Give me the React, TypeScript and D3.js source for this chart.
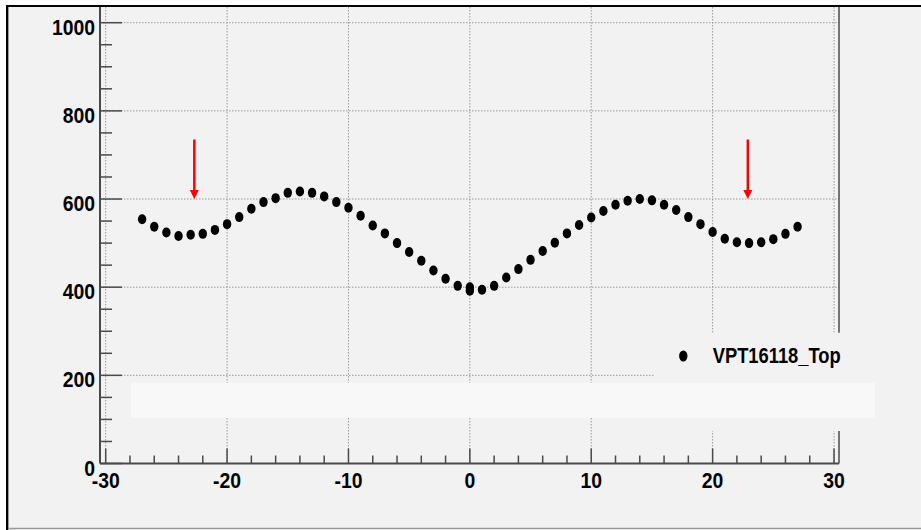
import * as d3 from 'd3';

// Measured points (x position, signal)
const xValues = [
  -27, -26, -25, -24, -23, -22, -21, -20, -19, -18, -17, -16, -15, -14,
  -13, -12, -11, -10, -9, -8, -7, -6, -5, -4, -3, -2, -1, 0, 0,
  1, 2, 3, 4, 5, 6, 7, 8, 9, 10, 11, 12, 13, 14,
  15, 16, 17, 18, 19, 20, 21, 22, 23, 24, 25, 26, 27,
];
const yValues = [
  554, 537, 524, 516, 519, 521, 530, 543, 559, 578, 593, 602, 614, 617,
  614, 606, 593, 580, 562, 540, 522, 500, 480, 460, 438, 419, 403, 400, 392,
  394, 403, 422, 441, 462, 482, 501, 522, 541, 558, 573, 587, 596, 600,
  597, 587, 575, 559, 543, 525, 510, 502, 500, 502, 509, 521, 537,
];
const seriesName = 'VPT16118_Top';

// Axis ticks
const xMajorTicks = [-30, -20, -10, 0, 10, 20, 30];
const yMajorTicks = [0, 200, 400, 600, 800, 1000];

// Red arrow markers (x, from y, to y)
const arrowX = [-22.7, 22.9];
const arrowFrom = 735;
const arrowTo = 600;

const W = 921, H = 530;
const frameL = 100, frameR = 839, frameT = 7, frameB = 463.5;

export default function App() {
  const x = d3.scaleLinear().domain([-30, 30]).range([105.7, 834]);
  const y = d3.scaleLinear().domain([0, 1000]).range([463.5, 22.7]);

  const xMinor = d3.range(-30, 30.01, 2).filter(v => v % 10 !== 0);
  const yMinor = d3.range(0, 1000.01, 50).filter(v => v % 200 !== 0);

  const points = xValues.map((xv, i) => ({ x: xv, y: yValues[i] }));

  const axisColor = '#4a4a4a';
  const gridColor = '#9a9a9a';
  const font = "'Liberation Sans', Arial, Helvetica, sans-serif";

  return (
    <svg width={W} height={H} style={{ position: 'absolute', left: 0, top: 0 }}>
      {/* canvas background + outer border */}
      <rect x={7} y={6} width={W - 7} height={H - 6} fill="#f2f2f2" />
      <line x1={6} x2={W} y1={6} y2={6} stroke="#000" strokeWidth={2} />
      <line x1={7} x2={7} y1={5} y2={H} stroke="#000" strokeWidth={2} />
      <line x1={8.5} x2={8.5} y1={7} y2={H} stroke="#999" strokeWidth={1} />
      <line x1={8} x2={W} y1={528.5} y2={528.5} stroke="#9a9a9a" strokeWidth={1.5} />

      {/* grid */}
      <g stroke={gridColor} strokeWidth={1} strokeDasharray="1.5,1.5">
        {xMajorTicks.map(t => (
          <line key={'gx' + t} x1={x(t)} x2={x(t)} y1={frameT} y2={frameB} />
        ))}
        {yMajorTicks.map(t => (
          <line key={'gy' + t} x1={frameL} x2={frameR} y1={y(t)} y2={y(t)} />
        ))}
      </g>

      {/* frame / axes */}
      <line x1={frameL} x2={frameL} y1={frameT} y2={frameB} stroke={axisColor} strokeWidth={2} />
      <line x1={frameR} x2={frameR} y1={frameT} y2={frameB} stroke={axisColor} strokeWidth={1.5} />
      <line x1={frameL} x2={frameR} y1={frameB} y2={frameB} stroke={axisColor} strokeWidth={2} />

      {/* y ticks */}
      <g stroke={axisColor} strokeWidth={1.5}>
        {yMajorTicks.map(t => (
          <line key={'ytM' + t} x1={frameL} x2={frameL + 22} y1={y(t)} y2={y(t)} />
        ))}
        {yMinor.map(t => (
          <line key={'ytm' + t} x1={frameL} x2={frameL + 12} y1={y(t)} y2={y(t)} />
        ))}
        {xMajorTicks.map(t => (
          <line key={'xtM' + t} x1={x(t)} x2={x(t)} y1={frameB} y2={frameB - 15} />
        ))}
        {xMinor.map(t => (
          <line key={'xtm' + t} x1={x(t)} x2={x(t)} y1={frameB} y2={frameB - 8} />
        ))}
      </g>

      {/* tick labels */}
      <g fontFamily={font} fontWeight="bold" fontSize={22} fill="#000">
        {yMajorTicks.map(t => (
          <text key={'yl' + t} transform={`translate(95,${y(t) + 12}) scale(0.88,1)`} textAnchor="end">
            {t}
          </text>
        ))}
        {xMajorTicks.map(t => (
          <text key={'xl' + t} transform={`translate(${x(t)},${frameB + 24.5}) scale(0.88,1)`} textAnchor="middle">
            {t}
          </text>
        ))}
      </g>

      {/* data points */}
      <g fill="#000">
        {points.map((p, i) => (
          <ellipse key={i} cx={x(p.x)} cy={y(p.y)} rx={4.2} ry={5} />
        ))}
      </g>

      {/* red arrows */}
      <g>
        {arrowX.map(a => (
          <g key={'ar' + a}>
            <line x1={x(a)} x2={x(a)} y1={y(arrowFrom)} y2={y(arrowTo) - 8} stroke="#ff0000" strokeWidth={2.5} />
            <path
              d={`M${x(a) - 4.5},${y(arrowTo) - 9} L${x(a) + 4.5},${y(arrowTo) - 9} L${x(a)},${y(arrowTo)} Z`}
              fill="#ff0000"
            />
          </g>
        ))}
      </g>

      {/* legend box */}
      <rect x={655} y={332.7} width={220} height={98.3} fill="#f2f2f2" />
      <rect x={131} y={382.7} width={744} height={35} fill="#f8f8f8" />
      <ellipse cx={683.3} cy={356} rx={4.2} ry={5.5} fill="#000" />
      <text
        x={712.7}
        y={363.3}
        fontFamily={font}
        fontWeight="bold"
        fontSize={22.5}
        textLength={128}
        lengthAdjust="spacingAndGlyphs"
      >
        {seriesName}
      </text>
    </svg>
  );
}
